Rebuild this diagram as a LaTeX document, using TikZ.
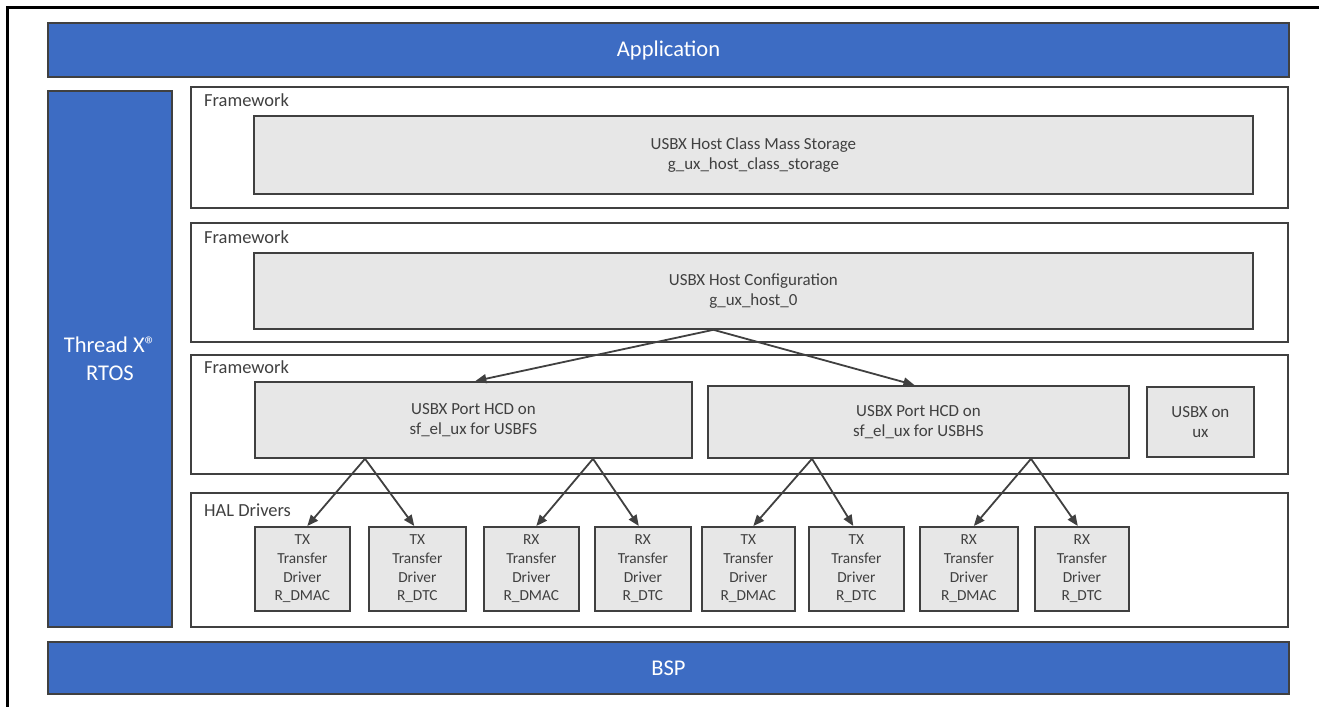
\documentclass[tikz,border=0pt]{standalone}
\usepackage{fontspec}
\setmainfont{Carlito}
\usetikzlibrary{arrows.meta,calc}
\definecolor{rblue}{HTML}{3D6CC3}
\definecolor{edge}{HTML}{404040}
\definecolor{boxgray}{HTML}{E7E7E7}
\definecolor{txt}{HTML}{404040}
\tikzset{
  blk/.style={draw=edge,line width=2bp,fill=rblue,text=white,inner sep=0pt,anchor=north west,align=center,font=\fontsize{22.6}{28}\selectfont},
  frame/.style={draw=edge,line width=1.8bp,fill=white,inner sep=0pt,anchor=north west},
  gbox/.style={draw=edge,line width=1.8bp,fill=boxgray,text=txt,inner sep=0pt,anchor=north west,align=center,font=\fontsize{17}{20}\selectfont},
  sbox/.style={draw=edge,line width=1.6bp,fill=boxgray,text=txt,inner sep=0pt,anchor=north west,align=center,font=\fontsize{15.4}{18.7}\selectfont,minimum height=84bp},
  lbl/.style={anchor=west,text=txt,inner sep=0pt,font=\fontsize{18.5}{20}\selectfont},
  arr/.style={draw=edge,line width=1.8bp,-{Triangle[length=11bp,width=9bp]}},
}
\begin{document}
\begin{tikzpicture}[x=1bp,y=-1bp]
\useasboundingbox (0,0) rectangle (1319,706);
\draw[line width=3bp,black] (7,710) -- (7,8) -- (1322,8);
% big blue blocks
\node[blk,minimum width=1241bp,minimum height=54bp] (app) at (47,22) {Application};
\node[blk,minimum width=124bp,minimum height=536bp] (rtos) at (47,90) {Thread X®\\RTOS};
\node[blk,minimum width=1241bp,minimum height=52bp] (bsp) at (47,641) {BSP};
% framework frames
\node[frame,minimum width=1097bp,minimum height=121bp] (fw1) at (190,86) {};
\node[frame,minimum width=1097bp,minimum height=119bp] (fw2) at (190,222) {};
\node[frame,minimum width=1097bp,minimum height=119bp] (fw3) at (190,354) {};
\node[frame,minimum width=1097bp,minimum height=134bp] (hal) at (190,492) {};
\node[lbl] (l1) at (204,100) {Framework};
\node[lbl] (l2) at (204,237) {Framework};
\node[lbl] (l3) at (204,367) {Framework};
\node[lbl] (l4) at (204,510) {HAL Drivers};
% framework content
\node[gbox,minimum width=999bp,minimum height=78bp] (ms) at (253,115) {USBX Host Class Mass Storage\\g\_ux\_host\_class\_storage};
\node[gbox,minimum width=999bp,minimum height=76bp] (cfg) at (253,252) {USBX Host Configuration\\g\_ux\_host\_0};
\node[gbox,minimum width=437bp,minimum height=76bp] (fs) at (254,381) {USBX Port HCD on\\sf\_el\_ux for USBFS};
\node[gbox,minimum width=421bp,minimum height=72bp] (hs) at (707,385) {USBX Port HCD on\\sf\_el\_ux for USBHS};
\node[gbox,minimum width=107bp,minimum height=70bp] (ux) at (1146,386) {USBX on\\ux};
% HAL boxes
\node[sbox,minimum width=95bp] (b1) at (254,526) {TX\\Transfer\\Driver\\R\_DMAC};
\node[sbox,minimum width=97bp] (b2) at (368,526) {TX\\Transfer\\Driver\\R\_DTC};
\node[sbox,minimum width=95bp] (b3) at (483,526) {RX\\Transfer\\Driver\\R\_DMAC};
\node[sbox,minimum width=96bp] (b4) at (594,526) {RX\\Transfer\\Driver\\R\_DTC};
\node[sbox,minimum width=93bp] (b5) at (701,526) {TX\\Transfer\\Driver\\R\_DMAC};
\node[sbox,minimum width=95bp] (b6) at (808,526) {TX\\Transfer\\Driver\\R\_DTC};
\node[sbox,minimum width=98bp] (b7) at (919,526) {RX\\Transfer\\Driver\\R\_DMAC};
\node[sbox,minimum width=94bp] (b8) at (1034,526) {RX\\Transfer\\Driver\\R\_DTC};
% connectors
\coordinate (c0) at ([xshift=-40bp]cfg.south);
\draw[arr] (c0) -- ([xshift=2bp]fs.north);
\draw[arr] (c0) -- ([xshift=-4bp]hs.north);
\coordinate (f1) at ([xshift=111bp]fs.south west);
\coordinate (f2) at ([xshift=339bp]fs.south west);
\coordinate (h1) at ([xshift=105bp]hs.south west);
\coordinate (h2) at ([xshift=324bp]hs.south west);
\draw[arr] (f1) -- ([xshift=5bp]b1.north);
\draw[arr] (f1) -- ([xshift=-3bp]b2.north);
\draw[arr] (f2) -- ([xshift=5bp]b3.north);
\draw[arr] (f2) -- ([xshift=-4bp]b4.north);
\draw[arr] (h1) -- ([xshift=5bp]b5.north);
\draw[arr] (h1) -- ([xshift=-3bp]b6.north);
\draw[arr] (h2) -- ([xshift=5bp]b7.north);
\draw[arr] (h2) -- ([xshift=-4bp]b8.north);
\end{tikzpicture}
\end{document}
